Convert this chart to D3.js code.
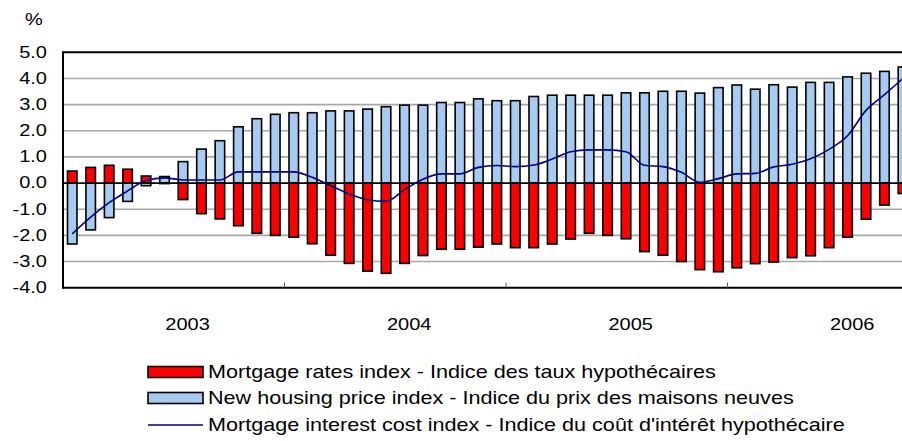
<!DOCTYPE html>
<html><head><meta charset="utf-8">
<script src="https://cdn.jsdelivr.net/npm/d3@7"></script>
<style>
body{margin:0;background:#fff}
svg{display:block}
text{font-family:"Liberation Sans",Arial,sans-serif;fill:#000}
</style>
</head><body>
<svg id="chart" width="902" height="441"></svg>
<script>
// ---- data ----
const months = [
 "2003-01","2003-02","2003-03","2003-04","2003-05","2003-06","2003-07","2003-08","2003-09","2003-10","2003-11","2003-12",
 "2004-01","2004-02","2004-03","2004-04","2004-05","2004-06","2004-07","2004-08","2004-09","2004-10","2004-11","2004-12",
 "2005-01","2005-02","2005-03","2005-04","2005-05","2005-06","2005-07","2005-08","2005-09","2005-10","2005-11","2005-12",
 "2006-01","2006-02","2006-03","2006-04","2006-05","2006-06","2006-07","2006-08","2006-09","2006-10"
];
const years = ["2003","2004","2005","2006"];
const yTicks = [5,4,3,2,1,0,-1,-2,-3,-4];
const mortgageRates = [
 0.46,0.60,0.68,0.53,0.27,-0.02,-0.63,-1.17,-1.37,-1.63,-1.92,-2.00,
 -2.07,-2.32,-2.76,-3.07,-3.37,-3.45,-3.07,-2.77,-2.53,-2.53,-2.45,-2.33,
 -2.47,-2.47,-2.33,-2.14,-1.92,-2.00,-2.13,-2.62,-2.76,-3.00,-3.31,-3.39,
 -3.24,-3.08,-3.02,-2.85,-2.78,-2.47,-2.07,-1.38,-0.84,-0.40
];
const newHousing = [
 -2.33,-1.79,-1.32,-0.70,-0.10,0.25,0.82,1.30,1.62,2.15,2.46,2.63,
 2.69,2.69,2.76,2.76,2.83,2.92,2.98,2.98,3.08,3.08,3.22,3.15,
 3.15,3.31,3.36,3.36,3.36,3.36,3.45,3.45,3.51,3.51,3.44,3.65,
 3.75,3.59,3.76,3.67,3.85,3.85,4.06,4.20,4.27,4.44
];
const interestCost = [
 -1.94,-1.30,-0.75,-0.30,0.10,0.20,0.12,0.12,0.12,0.43,0.43,0.43,
 0.43,0.22,-0.10,-0.42,-0.64,-0.70,-0.25,0.15,0.35,0.35,0.60,0.67,
 0.63,0.69,0.92,1.20,1.27,1.27,1.20,0.68,0.63,0.41,0.03,0.17,
 0.35,0.37,0.62,0.72,0.93,1.29,1.81,2.78,3.38,4.00
];
const legendLabels = [
 "Mortgage rates index - Indice des taux hypothécaires",
 "New housing price index - Indice du prix des maisons neuves",
 "Mortgage interest cost index - Indice du coût d'intérêt hypothécaire"
];
const unitLabel = "%";

// ---- styles ----
const RED = "#ff0000", BLUE = "#a6caf0", NAVY = "#000080";
const SX = 1.25;  // horizontal stretch of axis text
const SXL = 1.2;  // horizontal stretch of legend text

const svg = d3.select("#chart");
const plotLeft = 63, plotTop = 52.3, plotBottom = 287.7, step = 18.46;
const x = d3.scaleBand().domain(months).range([plotLeft, plotLeft + months.length * step]);
const y = d3.scaleLinear().domain([-4, 5]).range([plotBottom, plotTop]);
const bw = 9.5;

function stext(g, tx, ty, str, size, anchor, sx) {
  return g.append("text")
    .attr("transform", `translate(${tx},${ty}) scale(${sx || SX},1)`)
    .attr("text-anchor", anchor || "start")
    .attr("dominant-baseline", "central")
    .style("font-size", size + "px")
    .text(str);
}

// gridlines
svg.append("g").selectAll("line")
  .data(yTicks.filter(d => d !== 5 && d !== -4 && d !== 0))
  .join("line")
  .attr("x1", plotLeft).attr("x2", 902)
  .attr("y1", d => y(d)).attr("y2", d => y(d))
  .attr("stroke", "#a8a8a8").attr("stroke-width", 1.6);

// bars
const gb = svg.append("g");
gb.selectAll("rect.blue").data(months).join("rect").attr("class", "blue")
  .attr("x", d => x(d) + x.bandwidth() / 2 - bw / 2)
  .attr("width", bw)
  .attr("y", (d, i) => y(Math.max(0, newHousing[i])))
  .attr("height", (d, i) => Math.abs(y(newHousing[i]) - y(0)))
  .attr("fill", BLUE).attr("stroke", "#000").attr("stroke-width", 1.6);
gb.selectAll("rect.red").data(months).join("rect").attr("class", "red")
  .attr("x", d => x(d) + x.bandwidth() / 2 - bw / 2)
  .attr("width", bw)
  .attr("y", (d, i) => y(Math.max(0, mortgageRates[i])))
  .attr("height", (d, i) => Math.abs(y(mortgageRates[i]) - y(0)))
  .attr("fill", RED).attr("stroke", "#000").attr("stroke-width", 1.6);

// zero line
svg.append("line").attr("x1", plotLeft).attr("x2", 902)
  .attr("y1", y(0)).attr("y2", y(0))
  .attr("stroke", "#000").attr("stroke-width", 1.6);

// line series
svg.append("path")
  .datum(months)
  .attr("fill", "none").attr("stroke", NAVY).attr("stroke-width", 1.6)
  .attr("d", d3.line()
    .x(d => x(d) + x.bandwidth() / 2)
    .y((d, i) => y(interestCost[i]))
    .curve(d3.curveMonotoneX));

// frame
svg.append("line").attr("x1", plotLeft).attr("x2", 902).attr("y1", plotTop).attr("y2", plotTop)
  .attr("stroke", "#000").attr("stroke-width", 2);
svg.append("line").attr("x1", plotLeft).attr("x2", 902).attr("y1", plotBottom).attr("y2", plotBottom)
  .attr("stroke", "#000").attr("stroke-width", 2);
svg.append("line").attr("x1", plotLeft).attr("x2", plotLeft).attr("y1", plotTop - 1).attr("y2", plotBottom + 1)
  .attr("stroke", "#000").attr("stroke-width", 2);

// year ticks on the bottom axis
svg.append("g").selectAll("line")
  .data(years.slice(1))
  .join("line")
  .attr("x1", (d, i) => x(months[(i + 1) * 12]))
  .attr("x2", (d, i) => x(months[(i + 1) * 12]))
  .attr("y1", plotBottom).attr("y2", plotBottom - 5)
  .attr("stroke", "#555").attr("stroke-width", 1);

// y labels
const gy = svg.append("g");
yTicks.forEach(v => stext(gy, 47, y(v), v.toFixed(1), 16, "end"));
stext(gy, 34, 20, unitLabel, 16, "middle");

// year labels
const gx = svg.append("g");
years.forEach((yr, i) => stext(gx, x(months[i * 12]) + 6.75 * step, 325, yr, 16, "middle"));

// legend
const gl = svg.append("g");
const lx = 148, lw = 55, rows = [372, 398, 425];
gl.append("rect").attr("x", lx).attr("y", rows[0] - 5.5).attr("width", lw).attr("height", 11)
  .attr("fill", RED).attr("stroke", "#000").attr("stroke-width", 1.6);
gl.append("rect").attr("x", lx).attr("y", rows[1] - 5.5).attr("width", lw).attr("height", 11)
  .attr("fill", BLUE).attr("stroke", "#000").attr("stroke-width", 1.6);
gl.append("line").attr("x1", lx).attr("x2", lx + lw).attr("y1", rows[2]).attr("y2", rows[2])
  .attr("stroke", NAVY).attr("stroke-width", 1.6);
legendLabels.forEach((t, i) => stext(gl, lx + lw + 5, rows[i], t, 18, "start", SXL));
</script>
</body></html>
